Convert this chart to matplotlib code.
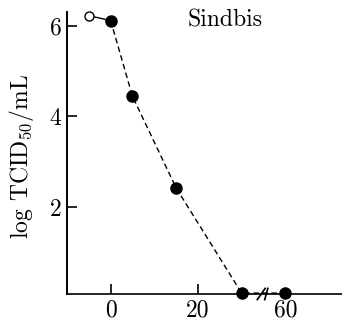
import numpy as np
import matplotlib
matplotlib.use("Agg")
import matplotlib.pyplot as plt
import matplotlib.transforms as mtransforms

plt.rcParams['font.family'] = ['cmr10', 'DejaVu Serif']
plt.rcParams['mathtext.fontset'] = 'cm'
plt.rcParams['axes.formatter.use_mathtext'] = True

# data
pre_time = [-5, 0]
pre_titer = [6.22, 6.11]
time = [0, 5, 15, 30, 60]
titer = [6.11, 4.44, 2.42, 0.1, 0.1]
xticks = [0, 20, 60]
yticks = [2, 4, 6]
title = "Sindbis"
ylabel = "log TCID$_{50}$/mL"

BREAK_LO, BREAK_HI = 36, 56

def fwd(x):
    x = np.asarray(x, dtype=float)
    return np.where(x <= BREAK_LO, x, np.where(x >= BREAK_HI, x - (BREAK_HI - BREAK_LO), BREAK_LO))

def inv(p):
    p = np.asarray(p, dtype=float)
    return np.where(p <= BREAK_LO, p, p + (BREAK_HI - BREAK_LO))

fig = plt.figure(figsize=(3.42, 3.24), dpi=100)
ax = fig.add_axes([67/342, 1 - 294/324, 1 - 67/342, (294 - 12)/324])
ax.set_xscale('function', functions=(fwd, inv))

ax.plot(pre_time, pre_titer, '-', color='black', lw=1.0, zorder=2)
ax.plot(pre_time[:1], pre_titer[:1], 'o', mfc='white', mec='black', mew=1.0, ms=6.5, zorder=3, clip_on=False)
ax.plot(time, titer, '--', color='black', lw=1.0, dashes=(4, 2.5), zorder=2, clip_on=False)
ax.plot(time, titer, 'o', color='black', ms=8, zorder=4, clip_on=False)

ax.set_xlim(-10, 73)
ax.set_ylim(0.08, 6.3)

ax.set_xticks(xticks)
ax.set_xticklabels([str(t) for t in xticks])
ax.set_yticks(yticks)
ax.set_yticklabels([str(t) for t in yticks])
ax.tick_params(direction='in', length=7, width=1.2, labelsize=17, color='black')
ax.tick_params(axis='x', pad=4)
ax.tick_params(axis='y', pad=4)
ax.xaxis.get_major_ticks()[2].tick1line.set_visible(False)

for s in ['top', 'right']:
    ax.spines[s].set_visible(False)
ax.spines['left'].set_linewidth(1.4)
ax.spines['bottom'].set_linewidth(1.2)

fig.text(22/342, 1 - 157/324, ylabel, fontsize=17, rotation=90, ha='center', va='center')

fig.text(225/342, 1 - 20/324, title, fontsize=17, ha='center', va='center')

# axis break marks
trans = mtransforms.blended_transform_factory(ax.transData, ax.transAxes)
for bx in [34.5, 36.2]:
    ax.plot([bx - 0.9, bx + 0.9], [-0.02, 0.02], color='black', lw=1.2,
            transform=trans, clip_on=False, zorder=5)

fig.savefig("out.png", dpi=100)
